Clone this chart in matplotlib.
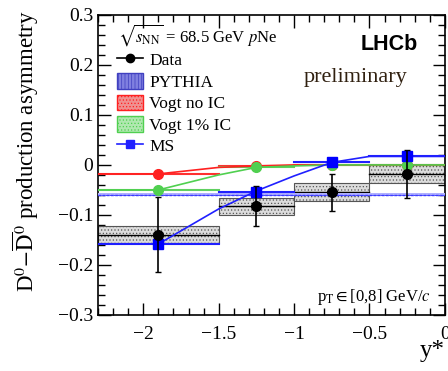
import matplotlib
matplotlib.use("Agg")
import matplotlib.pyplot as plt
from matplotlib.patches import Patch, Rectangle
from matplotlib.lines import Line2D
from matplotlib.ticker import MultipleLocator
import numpy as np

plt.rcParams['font.family'] = ['Liberation Serif', 'DejaVu Serif']
plt.rcParams['mathtext.fontset'] = 'stix'
plt.rcParams['hatch.linewidth'] = 0.5

# bins and data
bin_lo = [-2.3, -1.5, -1.0, -0.5]
bin_hi = [-1.5, -1.0, -0.5, 0.0]
x_pts = [-1.9, -1.25, -0.75, -0.25]
data_y = [-0.140, -0.083, -0.055, -0.018]
data_stat = [0.075, 0.040, 0.037, 0.048]
data_syst = [0.017, 0.017, 0.018, 0.018]

# models
pythia_y = -0.060
vogt_noic = [-0.018, -0.002, 0.000, 0.000]
vogt_1ic = [-0.050, -0.005, 0.000, 0.000]
ms_y = [-0.158, -0.055, 0.005, 0.017]
# smooth curve nodes
ms_curve_x = [-1.9, -1.5, -1.25, -1.0, -0.75, -0.5, -0.25, 0.0]
ms_curve_y = [-0.158, -0.088, -0.052, -0.022, 0.005, 0.017, 0.017, 0.017]
noic_curve_x = [-2.3, -1.9, -1.5, -1.25, -1.0, -0.75, -0.25, 0.0]
noic_curve_y = [-0.018, -0.018, -0.005, -0.002, 0.0, 0.0, 0.0, 0.0]
ic_curve_x = [-2.3, -1.9, -1.5, -1.25, -1.0, -0.75, -0.25, 0.0]
ic_curve_y = [-0.050, -0.050, -0.020, -0.005, -0.002, 0.0, 0.0, 0.0]

fig = plt.figure(figsize=(4.48, 3.71), dpi=100)
ax = fig.add_axes([0.219, 0.151, 0.774, 0.809])
ax.set_xlim(-2.3, 0.0)
ax.set_ylim(-0.3, 0.3)

# data systematic boxes
for lo, hi, y, s in zip(bin_lo, bin_hi, data_y, data_syst):
    ax.add_patch(Rectangle((lo, y - s), hi - lo, 2 * s, facecolor='#dcdcdc',
                           edgecolor='#555555', lw=0.8, hatch='.....', zorder=2))
    ax.plot([lo, hi], [y, y], color='black', lw=1.0, zorder=3)

# PYTHIA band
ax.fill_between([-2.3, 0.0], pythia_y - 0.003, pythia_y + 0.003, facecolor='#b0b0ff',
                edgecolor='#4040ff', hatch='....', lw=0, zorder=4)
ax.plot([-2.3, 0.0], [pythia_y, pythia_y], color='#3a3aff', lw=1.0, ls=(0, (2, 1)), zorder=4)

# Vogt bands per bin
for lo, hi, a, b in zip(bin_lo, bin_hi, vogt_noic, vogt_1ic):
    ax.plot([lo, hi], [a, a], color='#ff3030', lw=1.5, zorder=4)
    ax.plot([lo, hi], [b, b], color='#60d060', lw=1.5, zorder=4)
ax.plot(noic_curve_x, noic_curve_y, color='#ff2020', lw=1.2, zorder=5)
ax.plot(ic_curve_x, ic_curve_y, color='#50d050', lw=1.2, zorder=5)
ax.plot(x_pts, vogt_noic, 'o', color='#ff2020', ms=7, zorder=6)
ax.plot(x_pts, vogt_1ic, 'o', color='#50d050', ms=7, zorder=6)

# MS
for lo, hi, y in zip(bin_lo, bin_hi, ms_y):
    ax.plot([lo, hi], [y, y], color='#2020ff', lw=1.5, zorder=5)
ax.plot(ms_curve_x, ms_curve_y, color='#2020ff', lw=1.2, zorder=6)
ax.plot(x_pts, ms_y, 's', color='#0000ff', ms=7, zorder=7)

# data points
ax.errorbar(x_pts, data_y, yerr=data_stat, fmt='o', color='black', ms=7,
            elinewidth=1.2, capsize=2.5, zorder=8)

# ticks
ax.xaxis.set_major_locator(MultipleLocator(0.5))
ax.xaxis.set_minor_locator(MultipleLocator(0.1))
ax.yaxis.set_major_locator(MultipleLocator(0.1))
ax.yaxis.set_minor_locator(MultipleLocator(0.02))
ax.tick_params(which='both', direction='in', top=True, right=True, labelsize=14, width=1.0)
ax.tick_params(which='major', length=9)
ax.tick_params(which='minor', length=5)
ax.set_xticks([-2, -1.5, -1, -0.5, 0])
ax.set_xticklabels(['\u22122', '\u22121.5', '\u22121', '\u22120.5', '0'])
ax.set_yticks([-0.3, -0.2, -0.1, 0, 0.1, 0.2, 0.3])
ax.set_yticklabels(['\u22120.3', '\u22120.2', '\u22120.1', '0', '0.1', '0.2', '0.3'])
ax.tick_params(axis='x', pad=8)
for sp in ax.spines.values():
    sp.set_linewidth(1.2)

ax.set_ylabel(r'D$^0$$-\overline{\rm D}$$^0$ production asymmetry', fontsize=16.5)
ax.yaxis.set_label_coords(-0.165, 0.545)
ax.text(1.0, -0.12, r'y*', transform=ax.transAxes, ha='right', va='center', fontsize=18)

ax.text(0.058, 0.933, r'$\sqrt{s_{\rm NN}}$ = 68.5 GeV $p$Ne', transform=ax.transAxes,
        ha='left', va='center', fontsize=12)
ax.text(0.922, 0.9, 'LHCb', transform=ax.transAxes, ha='right', va='center',
        fontsize=15.5, fontweight='bold', family='Liberation Sans')
ax.text(0.893, 0.79, 'preliminary', transform=ax.transAxes, ha='right', va='center',
        fontsize=16, color='#302010')
ax.text(0.96, 0.06, r'p$_{\rm T}$$\in$[0,8] GeV/$c$', transform=ax.transAxes,
        ha='right', va='center', fontsize=12)

handles = [
    Line2D([0], [0], color='black', marker='o', ms=6, lw=1.2),
    Patch(facecolor='#8080e0', edgecolor='#4040c0', hatch='|||||'),
    Patch(facecolor='#f09090', edgecolor='#ff2020', hatch='.....'),
    Patch(facecolor='#b0e8b0', edgecolor='#50d050', hatch='.....'),
    Line2D([0], [0], color='#2020ff', marker='s', ms=6, lw=1.2),
]
labels = ['Data', 'PYTHIA', 'Vogt no IC', 'Vogt 1% IC', 'MS']
ax.legend(handles, labels, loc='upper left', bbox_to_anchor=(0.055, 0.878), frameon=False,
          fontsize=12.5, labelspacing=0.22, handlelength=1.5, handleheight=1.0,
          handletextpad=0.35, borderpad=0.0, borderaxespad=0.0)

fig.savefig('out.png', dpi=100)
